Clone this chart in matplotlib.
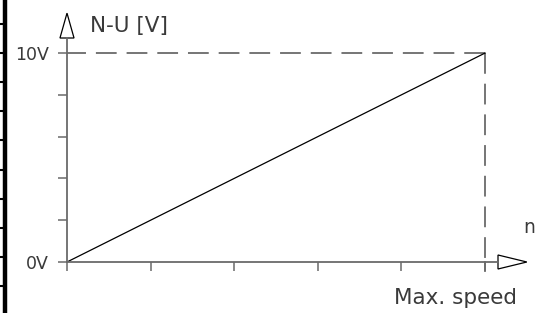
import numpy as np
import matplotlib
matplotlib.use("Agg")
import matplotlib.pyplot as plt
from matplotlib.patches import Polygon
from matplotlib.lines import Line2D

# --- dane ---
speed_ticks = [0, 1, 2, 3, 4, 5]          # podzialki osi n (5 = predkosc maks.)
volt_ticks = [0, 2, 4, 6, 8, 10]          # podzialki osi napiecia [V]
volt_labels = ["0V", "", "", "", "", "10V"]
line_speed = [0, 5]
line_volt = [0, 10]
max_speed = 5
max_volt = 10

GREY = "#6a6a6a"
TXT = "#3a3a3a"

fig = plt.figure(figsize=(5.44, 3.13), dpi=100)
ax = fig.add_axes([67 / 544, 51 / 313, 431 / 544, 224 / 313])
ax.set_xlim(0, 5.155)
ax.set_ylim(0, 10.72)

for s in ["top", "right"]:
    ax.spines[s].set_visible(False)
for s in ["left", "bottom"]:
    ax.spines[s].set_color(GREY)
    ax.spines[s].set_linewidth(1.3)

ax.set_xticks(speed_ticks)
ax.set_xticklabels([])
ax.set_yticks(volt_ticks)
ax.set_yticklabels(volt_labels)
ax.tick_params(axis="both", direction="out", length=6.5, width=1.1, color=GREY,
               labelcolor=TXT, labelsize=12.5, pad=6.5)

# dashed limits, drawn from the corner outward
ax.plot([max_speed, 0], [max_volt, max_volt], color=GREY, lw=1.3,
        dashes=(11.5, 5.5), clip_on=False)
ax.plot([max_speed, max_speed], [max_volt, 0], color=GREY, lw=1.3,
        dashes=(11.5, 5.5), clip_on=False)
# extend vertical below axis like a tick
ax.plot([max_speed, max_speed], [0, -0.42], color=GREY, lw=1.3, clip_on=False)

# charakterystyka
ax.plot(line_speed, line_volt, color="black", lw=0.9, clip_on=False)

# arrow heads (hollow)
ax.add_patch(Polygon([[0, 11.91], [-0.084, 10.72], [0.084, 10.72]], closed=True,
                     facecolor="white", edgecolor="black", lw=0.9, clip_on=False))
ax.add_patch(Polygon([[5.50, 0], [5.155, -0.335], [5.155, 0.335]], closed=True,
                     facecolor="white", edgecolor="black", lw=0.9, clip_on=False))

ax.text(0.27, 11.29, "N-U [V]", fontsize=15.5, color=TXT, va="center", ha="left")
ax.text(5.53, 1.63, "n", fontsize=13.5, color=TXT, va="center", ha="center")
ax.text(5.383, -2.01, "Max. speed", fontsize=15.5, color=TXT, va="baseline", ha="right")

# page border strip on the left
fig.add_artist(Line2D([5 / 544, 5 / 544], [0, 1], color="black", lw=3.2))
for yp in np.arange(24, 300, 29.1):
    fig.add_artist(Line2D([0, 5 / 544], [1 - yp / 313, 1 - yp / 313], color="black", lw=1.5))

fig.savefig("out.png", dpi=100)
